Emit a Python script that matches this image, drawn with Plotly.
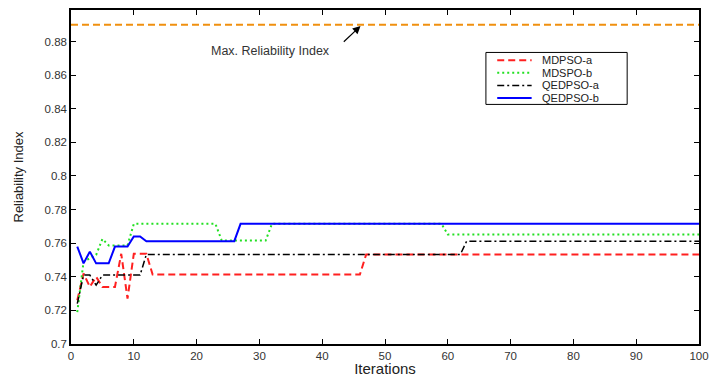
import plotly.graph_objects as go

# Data (iteration breakpoints and reliability index)
max_x = [0, 100]
max_y = [0.89, 0.89]

mdpso_a_x = [1, 2, 3, 4, 5, 7, 8, 9, 10, 12, 13, 46, 47, 100]
mdpso_a_y = [0.726, 0.742, 0.734, 0.740, 0.734, 0.734, 0.7537, 0.727, 0.7537, 0.7537, 0.7413, 0.7413, 0.7533, 0.7533]

mdspo_b_x = [1, 2, 3, 4, 5, 6, 9, 10, 23, 24, 31, 32, 59, 60, 100]
mdspo_b_y = [0.719, 0.749, 0.751, 0.753, 0.7625, 0.7587, 0.7587, 0.7715, 0.7715, 0.7616, 0.7616, 0.7715, 0.7715, 0.7652, 0.7652]

qedpso_a_x = [1, 2, 3, 4, 5, 11, 12, 62, 63, 100]
qedpso_a_y = [0.724, 0.741, 0.741, 0.735, 0.741, 0.741, 0.7533, 0.7533, 0.7612, 0.7612]

qedpso_b_x = [1, 2, 3, 4, 6, 7, 9, 10, 11, 12, 26, 27, 100]
qedpso_b_y = [0.758, 0.748, 0.755, 0.748, 0.748, 0.758, 0.758, 0.764, 0.764, 0.7612, 0.7612, 0.7715, 0.7715]

series_names = ["MDPSO-a", "MDSPO-b", "QEDPSO-a", "QEDPSO-b"]

y_ticks = [0.7, 0.72, 0.74, 0.76, 0.78, 0.8, 0.82, 0.84, 0.86, 0.88]
y_tick_text = ["0.7", "0.72", "0.74", "0.76", "0.78", "0.8", "0.82", "0.84", "0.86", "0.88"]
x_ticks = [0, 10, 20, 30, 40, 50, 60, 70, 80, 90, 100]

FONT = "Liberation Sans, Arial, sans-serif"

styles = [
    dict(color="#ff2020", width=2, dash="7px,4px"),
    dict(color="#22e022", width=2, dash="2px,3px"),
    dict(color="#000000", width=1.5, dash="7px,3px,2px,3px"),
    dict(color="#0000ff", width=2),
]
series = [(mdpso_a_x, mdpso_a_y), (mdspo_b_x, mdspo_b_y),
          (qedpso_a_x, qedpso_a_y), (qedpso_b_x, qedpso_b_y)]

fig = go.Figure()
fig.add_trace(go.Scatter(x=max_x, y=max_y, mode="lines", showlegend=False,
                         line=dict(color="#f0900f", width=2, dash="7px,4px")))
for name, (xs, ys), st in zip(series_names, series, styles):
    fig.add_trace(go.Scatter(x=xs, y=ys, mode="lines", name=name,
                             showlegend=False, line=st))

# Arrow and label for the maximum reliability index
fig.add_annotation(x=46.1, y=0.8893, ax=43.2, ay=0.8791, axref="x", ayref="y",
                   xref="x", yref="y", text="", showarrow=True,
                   arrowhead=2, arrowsize=1.3, arrowwidth=1.2, arrowcolor="#000000")
fig.add_annotation(x=31.8, y=0.8746, xref="x", yref="y", text="Max. Reliability Index",
                   showarrow=False, font=dict(family=FONT, size=12.5, color="#333333"))

# Compact legend box (MATLAB-style)
fig.add_shape(type="rect", xref="paper", yref="paper",
              x0=0.6607, x1=0.8856, y0=0.7173, y1=0.8729,
              line=dict(color="#000000", width=1), fillcolor="#ffffff", layer="above")
row_y = [0.8497, 0.8119, 0.7741, 0.7363]
for name, st, ry in zip(series_names, styles, row_y):
    fig.add_shape(type="line", xref="paper", yref="paper",
                  x0=0.6787, x1=0.7335, y0=ry, y1=ry, line=st, layer="above")
    fig.add_annotation(x=0.7492, y=ry, xref="paper", yref="paper", text=name,
                       showarrow=False, xanchor="left", yanchor="middle", borderpad=0,
                       font=dict(family=FONT, size=11, color="#222222"))

axis_common = dict(showline=True, linecolor="#000000", linewidth=1.5, mirror="ticks",
                   ticks="inside", ticklen=5, tickcolor="#000000", showgrid=False,
                   zeroline=False, tickfont=dict(family=FONT, size=11.5, color="#333333"))

fig.update_xaxes(range=[0, 100], tickvals=x_ticks, ticklabeloverflow="allow",
                 title=dict(text="Iterations", font=dict(family=FONT, size=15, color="#222222"), standoff=2),
                 **axis_common)
fig.update_yaxes(range=[0.7, 0.8988], tickvals=y_ticks, ticktext=y_tick_text,
                 title=dict(text="Reliability Index", font=dict(family=FONT, size=13, color="#222222"), standoff=18),
                 **axis_common)

fig.update_layout(
    width=712, height=377,
    margin=dict(l=71, r=3, t=10, b=31),
    paper_bgcolor="#ffffff", plot_bgcolor="#ffffff",
    font=dict(family=FONT, size=11, color="#222222"),
    showlegend=False,
)

fig.write_html("out.html")
